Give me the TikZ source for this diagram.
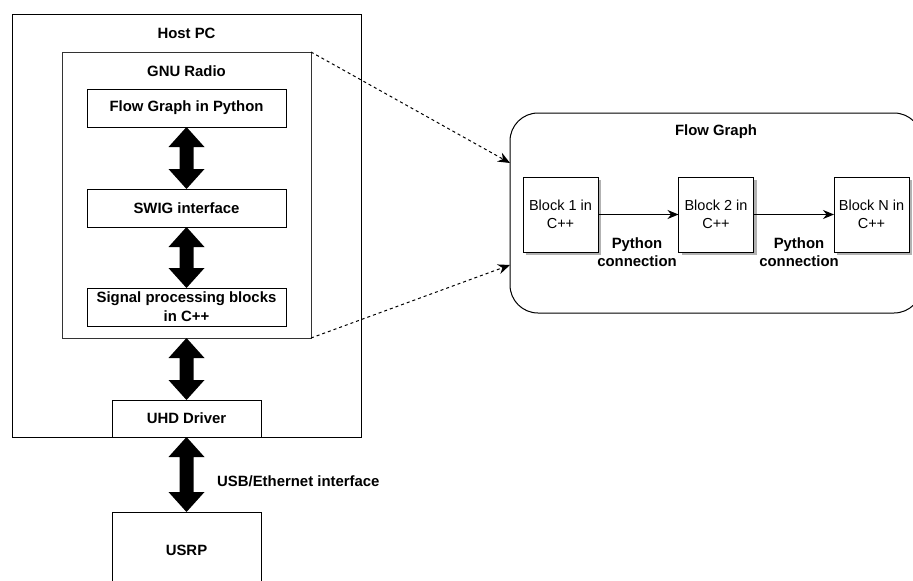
\documentclass[tikz,border=0pt]{standalone}
\usepackage{fontspec}
\setmainfont{Liberation Sans}
\usetikzlibrary{calc,arrows.meta}
\newcommand\thickarrow[2]{%
 \fill (#1.south) -- ++(18,20) -- ++(-11,0) -- ($(#2.north)+(7,-20)$) -- ++(11,0) -- (#2.north) -- ++(-18,-20) -- ++(11,0) -- ($(#1.south)+(-7,20)$) -- ++(-11,0) -- cycle;}
\tikzset{
  box/.style={draw, line width=1pt, outer sep=0pt, inner sep=0pt, rectangle},
  ttl/.style={font=\fontsize{14.9}{18}\selectfont\bfseries, inner sep=0pt, align=center},
  blk/.style={draw, line width=1pt, outer sep=0pt, inner sep=0pt, minimum width=75pt, minimum height=75pt, fill=white, align=center,
     font=\fontsize{14.5}{18}\selectfont,
     preaction={fill=black!30, transform canvas={shift={(3pt,-3pt)}}}},
  conn/.style={line width=1pt, -{Stealth[length=11pt,width=9pt]}},
  dconn/.style={line width=1pt, dash pattern=on 3pt off 3pt, -{Stealth[length=12pt,width=10pt]}},
}
\begin{document}
\begin{tikzpicture}[x=1pt,y=-1pt]
\useasboundingbox (0,0) rectangle (913,581);
\clip (0,0) rectangle (913,581);
% left stack
\node[box, minimum width=349pt, minimum height=423pt] (host) at (186.5,225.5) {};
\node[ttl] (hostt) at (186.5,33) {Host PC};
\node[box, draw=black!80, minimum width=249pt, minimum height=286pt] (gnu) at (186.5,195) {};
\node[ttl] (gnut) at (186.5,71) {GNU Radio};
\node[box, minimum width=199pt, minimum height=38pt, ttl] (fgp) at (186.5,108) {Flow Graph in Python};
\node[box, minimum width=199pt, minimum height=38pt, ttl] (swig) at (186.5,208) {SWIG interface};
\node[box, minimum width=199pt, minimum height=38pt, ttl, font=\fontsize{14.9}{19}\selectfont\bfseries] (spb) at (186.5,307) {Signal processing blocks\\in C++};
\node[box, minimum width=149pt, minimum height=37pt, ttl, fill=white] (uhd) at (186.5,418.5) {UHD Driver};
\node[box, minimum width=149pt, minimum height=76pt, ttl] (usrp) at (186.5,550) {USRP};
\node[ttl, anchor=west] (usb) at (217,481) {USB/Ethernet interface};
\thickarrow{fgp}{swig}
\thickarrow{swig}{spb}
\thickarrow{gnu}{uhd}
\thickarrow{uhd}{usrp}
% flow graph
\node[box, rounded corners=28pt, minimum width=412pt, minimum height=200pt] (flow) at (716,213) {};
\node[ttl] (flowt) at (716,132) {Flow Graph};
\node[blk] (b1) at (560.5,214.5) {Block 1 in\\C++};
\node[blk] (b2) at (716,214.5) {Block 2 in\\C++};
\node[blk] (bn) at (871.5,214.5) {Block N in\\C++};
\draw[conn] (b1) -- (b2);
\draw[conn] (b2) -- (bn);
\node[ttl] (pc1) at (637,252) {Python\\connection};
\node[ttl] (pc2) at (799,252) {Python\\connection};
\coordinate (fin1) at ($(flow.north west)+(0,50)$);
\coordinate (fin2) at ($(flow.north west)+(0,152)$);
\draw[dconn] (gnu.north east) -- (fin1);
\draw[dconn] (gnu.south east) -- (fin2);
\end{tikzpicture}
\end{document}
